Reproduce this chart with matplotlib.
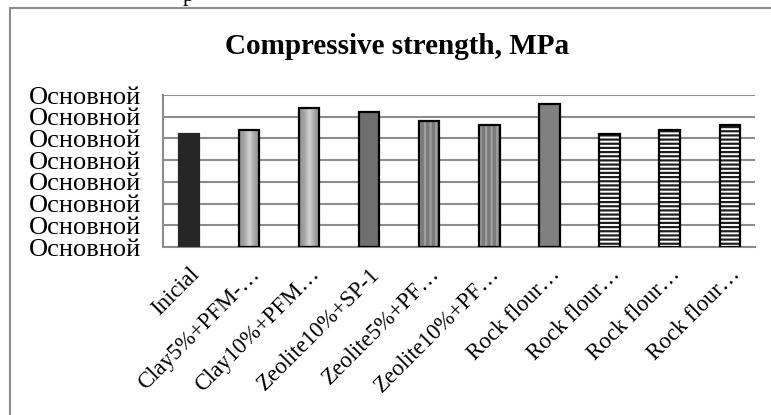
import matplotlib
matplotlib.use("Agg")
import matplotlib.pyplot as plt
import numpy as np
from matplotlib.colors import LinearSegmentedColormap
from matplotlib.patches import Rectangle

# data
categories = ["Inicial", "Clay5%+PFM-…", "Clay10%+PFM…", "Zeolite10%+SP-1",
              "Zeolite5%+PF…", "Zeolite10%+PF…", "Rock flour…", "Rock flour…",
              "Rock flour…", "Rock flour…"]
strength = [5.2, 5.4, 6.4, 6.2, 5.8, 5.6, 6.6, 5.2, 5.4, 5.6]
y_ticks = [0, 1, 2, 3, 4, 5, 6, 7]
y_tick_labels = ["Основной"] * 8
title = "Compressive strength, MPa"

# one fill style per bar
styles = ["dark", "gradient", "gradient", "mid", "texture", "texture",
          "gray", "stripes", "stripes", "stripes"]

plt.rcParams["font.family"] = ["Liberation Serif", "DejaVu Serif"]
plt.rcParams["hatch.linewidth"] = 1.6

W, H = 771, 415
fig = plt.figure(figsize=(W / 100, H / 100), dpi=100)
ax = fig.add_axes([163 / W, 1 - 247 / H, 592 / W, 152 / H])

x = np.arange(len(categories))
bars = ax.bar(x, strength, width=0.34, zorder=4)

grad_cmap = LinearSegmentedColormap.from_list("g", ["#d2d2d2", "#a4a4a4", "#8f8f8f"])
grad = np.abs(np.linspace(-1, 1, 64))[None, :]

for b, st in zip(bars, styles):
    b.set_linewidth(1.6)
    b.set_edgecolor("black")
    if st == "dark":
        b.set_facecolor("#262626")
        b.set_edgecolor("#262626")
    elif st == "gradient":
        b.set_facecolor("none")
        im = ax.imshow(grad, extent=(b.get_x(), b.get_x() + b.get_width(), 0, b.get_height()),
                       aspect="auto", cmap=grad_cmap, interpolation="bilinear", zorder=3)
        im.set_clip_path(b)
    elif st == "mid":
        b.set_facecolor("#6f6f6f")
    elif st == "gray":
        b.set_facecolor("#808080")
    elif st == "texture":
        b.set_facecolor("none")
        ax.bar(b.get_x() + b.get_width() / 2, b.get_height(), width=b.get_width(),
               color="#7a7a7a", edgecolor="#9e9e9e", hatch="|||", linewidth=0, zorder=3)
    elif st == "stripes":
        b.set_facecolor("none")
        ax.bar(b.get_x() + b.get_width() / 2, b.get_height(), width=b.get_width(),
               color="white", edgecolor="#1e1e1e", hatch="----", linewidth=0, zorder=3)

ax.set_xlim(-0.43, 9.42)
ax.set_ylim(0, 7)
ax.set_yticks(y_ticks)
ax.set_yticklabels(y_tick_labels, fontsize=19)
ax.set_xticks(x)
ax.set_xticklabels(categories, rotation=45, ha="right", va="top", rotation_mode="anchor",
                   fontsize=16.5)

ax.yaxis.grid(True, color="#8c8c8c", linewidth=1.5)
ax.set_axisbelow(True)
for side in ["top", "right"]:
    ax.spines[side].set_visible(False)
for side in ["left", "bottom"]:
    ax.spines[side].set_color("#8c8c8c")
    ax.spines[side].set_linewidth(1.5)

ax.tick_params(length=0)
ax.tick_params(axis="y", pad=16)
ax.tick_params(axis="x", pad=12)

fig.text(397 / W, 1 - 46 / H, title, ha="center", va="center",
         fontsize=21, fontweight="bold")

# chart border and the cut-off letter from the page above
fig.add_artist(Rectangle((10 / W, -0.1), 1.2, 1.1 - 8.5 / H, transform=fig.transFigure,
                         fill=False, edgecolor="#8c8c8c", linewidth=1.5))
fig.text(183 / W, 1 - 0.5 / H, "p", fontsize=16, ha="left", va="baseline")

fig.savefig("out.png", dpi=100)
